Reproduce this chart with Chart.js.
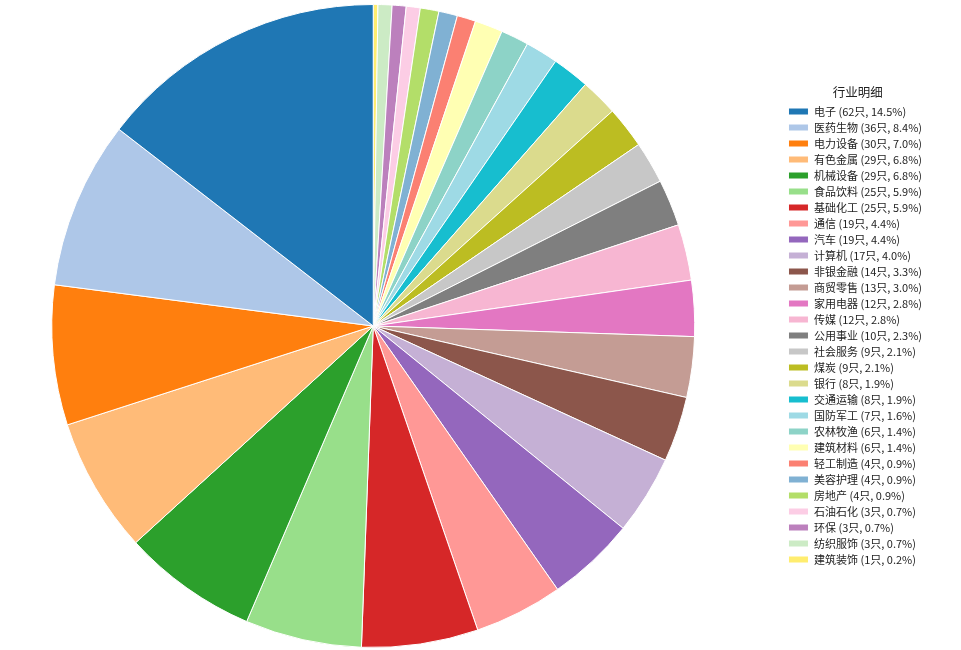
<!DOCTYPE html>
<html lang="zh-CN">
<head>
<meta charset="UTF-8">
<title>行业明细</title>
<script src="https://cdn.jsdelivr.net/npm/chart.js"></script>
<style>
    html, body {
        margin: 0;
        padding: 0;
        background: #ffffff;
    }
    #wrap {
        width: 961px;
        height: 650px;
    }
</style>
</head>
<body>
<div id="wrap"><canvas id="pieChart"></canvas></div>
<script>
// Industries, in legend order
const categories = [
    '电子', '医药生物', '电力设备', '有色金属', '机械设备', '食品饮料', '基础化工',
    '通信', '汽车', '计算机', '非银金融', '商贸零售', '家用电器', '传媒', '公用事业',
    '社会服务', '煤炭', '银行', '交通运输', '国防军工', '农林牧渔', '建筑材料',
    '轻工制造', '美容护理', '房地产', '石油石化', '环保', '纺织服饰', '建筑装饰'
];

// Stock count per industry
const counts = [
    62, 36, 30, 29, 29, 25, 25, 19, 19, 17, 14, 13, 12, 12, 10,
    9, 9, 8, 8, 7, 6, 6, 4, 4, 4, 3, 3, 3, 1
];

// Share shown in the legend (%)
const percents = [
    14.5, 8.4, 7.0, 6.8, 6.8, 5.9, 5.9, 4.4, 4.4, 4.0, 3.3, 3.0, 2.8, 2.8, 2.3,
    2.1, 2.1, 1.9, 1.9, 1.6, 1.4, 1.4, 0.9, 0.9, 0.9, 0.7, 0.7, 0.7, 0.2
];

const colors = [
    '#1f77b4', '#aec7e8', '#ff7f0e', '#ffbb78', '#2ca02c', '#98df8a', '#d62728',
    '#ff9896', '#9467bd', '#c5b0d5', '#8c564b', '#c49c94', '#e377c2', '#f7b6d2',
    '#7f7f7f', '#c7c7c7', '#bcbd22', '#dbdb8d', '#17becf', '#9edae5', '#8dd3c7',
    '#ffffb3', '#fb8072', '#80b1d3', '#b3de69', '#fccde5', '#bc80bd', '#ccebc5',
    '#ffed6f'
];

const legendTexts = categories.map((c, i) => `${c} (${counts[i]}只, ${percents[i].toFixed(1)}%)`);

// matplotlib draws counter-clockwise from the top, Chart.js clockwise:
// reverse the data and reverse the legend back
const rev = arr => arr.slice().reverse();

const FONT = '"Noto Sans CJK SC", "Noto Sans", sans-serif';

// pie sits left of the middle of the free area, stretch the area to the left
const pieShift = {
    id: 'pieShift',
    afterLayout(chart) {
        const area = chart.chartArea;
        area.left -= 37;
        area.width += 37;
    }
};

new Chart(document.getElementById('pieChart'), {
    type: 'pie',
    data: {
        labels: rev(legendTexts),
        datasets: [{
            data: rev(counts),
            backgroundColor: rev(colors),
            borderColor: '#ffffff',
            borderWidth: 1
        }]
    },
    options: {
        responsive: true,
        maintainAspectRatio: false,
        animation: false,
        layout: {
            padding: { left: 0, right: 29, top: 4, bottom: 2 }
        },
        plugins: {
            tooltip: { enabled: false },
            legend: {
                position: 'right',
                reverse: true,
                title: {
                    display: true,
                    text: '行业明细',
                    color: '#222',
                    font: { family: FONT, size: 12.5 },
                    padding: { top: 4, bottom: 0 }
                },
                labels: {
                    color: '#222',
                    font: { family: FONT, size: 11 },
                    boxWidth: 20,
                    boxHeight: 7,
                    padding: 5
                }
            }
        }
    },
    plugins: [pieShift]
});
</script>
</body>
</html>
